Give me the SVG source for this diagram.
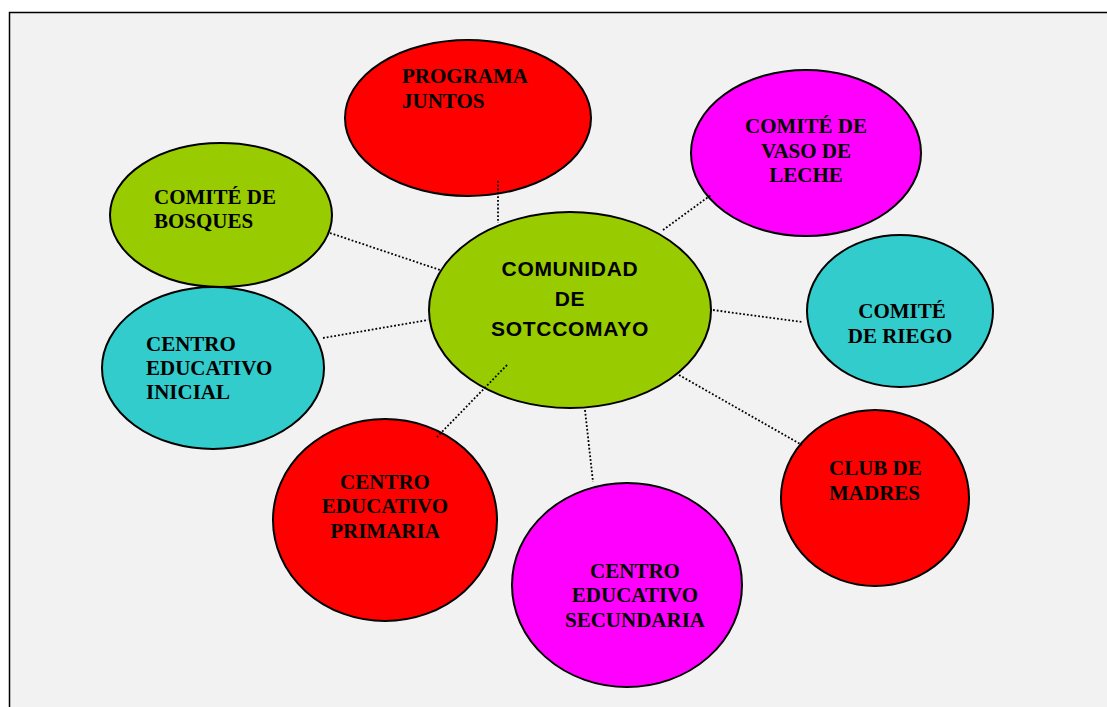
<svg xmlns="http://www.w3.org/2000/svg" width="1107" height="707" viewBox="0 0 1107 707">
<style>
.node{stroke:#000;stroke-width:2}
.red{fill:#ff0000}.mag{fill:#ff00ff}.grn{fill:#99cc00}.cyn{fill:#33cccc}
.t{font-family:"Liberation Serif","Times New Roman",serif;font-weight:bold;font-size:21px;fill:#000}
.c{text-anchor:middle}
.main{font-family:"Liberation Sans",Arial,sans-serif;font-weight:bold;font-size:21px;fill:#000;text-anchor:middle;letter-spacing:0.7px}
.conn line{stroke:#000;stroke-width:1.8;stroke-dasharray:1.8 2;fill:none}
</style>
<rect x="0" y="0" width="1107" height="707" fill="#ffffff"/>
<rect x="9.5" y="12.5" width="1110" height="710" fill="#f2f2f2" stroke="#000" stroke-width="1.5"/>
<g id="programa-juntos"><ellipse class="node red" cx="468" cy="118" rx="123" ry="78"/><text class="t" x="402" y="83">PROGRAMA</text><text class="t" x="402" y="108">JUNTOS</text></g>
<g id="vaso-de-leche"><ellipse class="node mag" cx="806" cy="153" rx="115" ry="83"/><text class="t c" x="806" y="133">COMITÉ DE</text><text class="t c" x="806" y="158">VASO DE</text><text class="t c" x="806" y="182">LECHE</text></g>
<g id="bosques"><ellipse class="node grn" cx="221" cy="215" rx="111" ry="72"/><text class="t" x="154" y="204">COMITÉ DE</text><text class="t" x="154" y="228">BOSQUES</text></g>
<g id="inicial"><ellipse class="node cyn" cx="213" cy="368" rx="111" ry="81"/><text class="t" x="146" y="351">CENTRO</text><text class="t" x="146" y="375">EDUCATIVO</text><text class="t" x="146" y="399">INICIAL</text></g>
<g id="riego"><ellipse class="node cyn" cx="900" cy="311" rx="93" ry="76"/><text class="t c" x="902" y="318">COMITÉ</text><text class="t c" x="900" y="343">DE RIEGO</text></g>
<g id="club-madres"><ellipse class="node red" cx="875" cy="498" rx="94" ry="88"/><text class="t" x="829" y="475">CLUB DE</text><text class="t" x="829" y="500">MADRES</text></g>
<g id="primaria"><ellipse class="node red" cx="385" cy="520" rx="112" ry="101"/><text class="t c" x="385" y="489">CENTRO</text><text class="t c" x="385" y="513">EDUCATIVO</text><text class="t c" x="385" y="538">PRIMARIA</text></g>
<g id="secundaria"><ellipse class="node mag" cx="627" cy="585" rx="115" ry="102"/><text class="t c" x="635" y="578">CENTRO</text><text class="t c" x="635" y="602">EDUCATIVO</text><text class="t c" x="635" y="627">SECUNDARIA</text></g>
<g id="comunidad"><ellipse class="node grn" cx="570" cy="310" rx="141" ry="98"/><text class="main" x="570" y="276">COMUNIDAD</text><text class="main" x="570" y="306">DE</text><text class="main" x="570" y="336">SOTCCOMAYO</text></g>
<g class="conn" id="connectors">
<line x1="498" y1="181" x2="498" y2="223"/>
<line x1="663" y1="230" x2="711" y2="195"/>
<line x1="330" y1="233" x2="440" y2="270"/>
<line x1="323" y1="338" x2="428" y2="320"/>
<line x1="713" y1="310" x2="802" y2="322"/>
<line x1="679" y1="375" x2="802" y2="445"/>
<line x1="507" y1="365" x2="437" y2="437"/>
<line x1="585" y1="410" x2="593" y2="482"/>
</g>
</svg>
